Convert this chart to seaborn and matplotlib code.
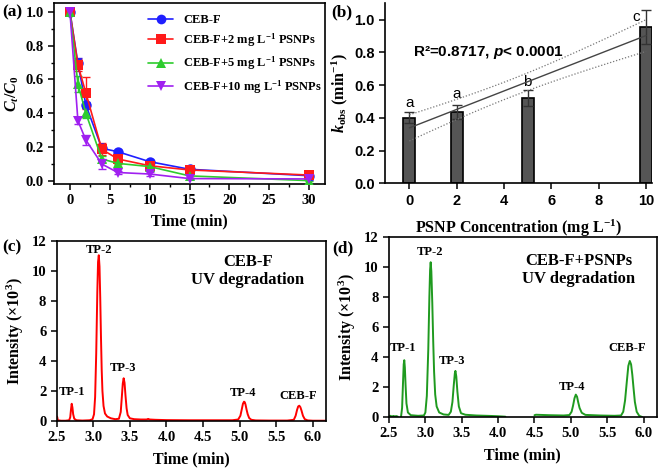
import numpy as np
import pandas as pd
import seaborn as sns
import matplotlib
matplotlib.use("Agg")
import matplotlib.pyplot as plt
from matplotlib.lines import Line2D
from matplotlib.ticker import MultipleLocator, FormatStrFormatter

# ---------------- data ----------------
time_min = [0, 1, 2, 4, 6, 10, 15, 30]
ceb = [1.0, 0.695, 0.449, 0.193, 0.173, 0.114, 0.069, 0.031]
ceb_err = [0.005, 0.03, 0.02, 0.02, 0.01, 0.01, 0.01, 0.01]
ps2 = [1.0, 0.685, 0.52, 0.187, 0.13, 0.09, 0.065, 0.035]
ps2_err = [0.005, 0.035, 0.095, 0.035, 0.03, 0.02, 0.01, 0.01]
ps5 = [1.0, 0.573, 0.40, 0.13, 0.104, 0.085, 0.03, 0.002]
ps5_err = [0.005, 0.045, 0.03, 0.02, 0.03, 0.01, 0.01, 0.005]
ps10 = [1.0, 0.356, 0.242, 0.10, 0.05, 0.041, 0.014, 0.012]
ps10_err = [0.005, 0.02, 0.03, 0.03, 0.01, 0.01, 0.005, 0.005]
series_names = ["CEB-F", "CEB-F+2 mg L$^{-1}$ PSNPs", "CEB-F+5 mg L$^{-1}$ PSNPs",
                "CEB-F+10 mg L$^{-1}$ PSNPs"]

conc = [0, 2, 5, 10]
kobs = [0.402, 0.433, 0.524, 0.955]
kobs_err = [0.035, 0.043, 0.049, 0.105]
letters = ["a", "a", "b", "c"]
letter_x = [0, 2, 5, 9.6]
letter_y = [0.49, 0.545, 0.62, 1.015]
n_rep = 3          # replicates per concentration
ci_scale = 0.184   # t * residual sd used for the 95% band

red_time = [2.500, 2.503, 2.508, 2.515, 2.560, 2.620, 2.670, 2.685, 2.695, 2.705, 2.715, 2.725,
            2.740, 2.770, 2.850, 2.950, 2.990, 3.010, 3.025, 3.040, 3.055, 3.065, 3.075, 3.085,
            3.095, 3.105, 3.115, 3.125, 3.140, 3.160, 3.190, 3.240, 3.300, 3.350, 3.375, 3.390,
            3.403, 3.415, 3.427, 3.440, 3.455, 3.470, 3.500, 3.560, 3.650, 3.730, 3.750, 3.770,
            3.850, 4.000, 4.300, 4.600, 4.900, 4.980, 5.010, 5.030, 5.045, 5.060, 5.070, 5.080,
            5.095, 5.110, 5.130, 5.160, 5.220, 5.400, 5.650, 5.740, 5.765, 5.785, 5.800, 5.815,
            5.830, 5.845, 5.865, 5.890, 5.930, 6.000, 6.180]
red_int = [0.05, 0.30, 0.25, 0.05, 0.02, 0.02, 0.05, 0.25, 0.75, 1.15, 0.90, 0.45,
           0.15, 0.05, 0.03, 0.05, 0.12, 0.45, 1.60, 4.50, 8.60, 10.60, 11.05, 10.30,
           8.20, 5.60, 3.40, 2.00, 1.00, 0.50, 0.30, 0.18, 0.12, 0.15, 0.60, 1.60,
           2.50, 2.85, 2.55, 1.70, 0.85, 0.40, 0.18, 0.12, 0.10, 0.10, 0.14, 0.10,
           0.08, 0.06, 0.05, 0.05, 0.05, 0.10, 0.35, 0.80, 1.15, 1.29, 1.25, 1.10,
           0.75, 0.45, 0.20, 0.08, 0.04, 0.03, 0.03, 0.08, 0.35, 0.75, 0.97, 1.02,
           0.92, 0.70, 0.35, 0.12, 0.04, 0.02, 0.02]
nan = float("nan")
green_time = [2.500, 2.520, 2.540, 2.560, 2.580, 2.600, 2.620, nan, 2.665, 2.680, 2.692, 2.702,
              2.710, 2.718, 2.728, 2.740, 2.760, 2.800, 2.900, 2.980, 3.000, 3.020, 3.040, 3.055,
              3.065, 3.073, 3.082, 3.095, 3.108, 3.120, 3.135, 3.155, 3.190, 3.250, 3.320, 3.350,
              3.372, 3.390, 3.405, 3.413, 3.425, 3.440, 3.460, 3.490, 3.550, 3.700, 3.900, 4.000,
              4.100, nan, 4.500, 4.520, 4.700, 4.900, 4.980, 5.010, 5.030, 5.050, 5.068, 5.085,
              5.100, 5.120, 5.150, 5.200, 5.400, 5.600, 5.690, 5.720, 5.745, 5.770, 5.790, 5.810,
              5.828, 5.845, 5.862, 5.880, 5.905, 5.940, 5.980]
green_int = [0.05, 0.08, 0.03, 0.07, 0.04, 0.06, 0.03, nan, 0.00, 0.60, 2.20, 3.50,
             3.78, 3.30, 2.10, 0.90, 0.30, 0.12, 0.08, 0.10, 0.30, 1.40, 4.50, 8.00,
             9.80, 10.30, 9.70, 7.60, 5.00, 3.00, 1.50, 0.70, 0.30, 0.17, 0.14, 0.35,
             1.00, 2.10, 2.90, 3.07, 2.70, 1.70, 0.70, 0.25, 0.15, 0.10, 0.07, 0.05,
             0.02, nan, 0.12, 0.15, 0.12, 0.10, 0.13, 0.35, 0.75, 1.25, 1.49, 1.35,
             1.00, 0.60, 0.28, 0.14, 0.10, 0.08, 0.10, 0.35, 1.10, 2.40, 3.40, 3.73,
             3.50, 2.80, 1.90, 1.00, 0.35, 0.08, 0.00]

peak_names = ["TP-1", "TP-2", "TP-3", "TP-4", "CEB-F"]
c_label_t = [2.705, 3.078, 3.41, 5.04, 5.80]
c_label_y = [1.93, 11.4, 3.53, 1.87, 1.69]
d_label_t = [2.69, 3.06, 3.37, 5.02, 5.77]
d_label_y = [4.6, 10.95, 3.73, 2.02, 4.6]

# ---------------- style ----------------
sns.set_theme(style="ticks")
SERIF = ["Liberation Serif", "DejaVu Serif"]
SANS = ["Liberation Sans", "DejaVu Sans"]
plt.rcParams.update({
    "font.family": SERIF,
    "font.weight": "bold",
    "axes.labelweight": "bold",
    "mathtext.fontset": "custom",
    "mathtext.rm": "Liberation Serif:bold",
    "mathtext.it": "Liberation Serif:italic:bold",
    "mathtext.bf": "Liberation Serif:bold",
    "mathtext.sf": "Liberation Sans:italic:bold",
    "axes.linewidth": 1.2,
    "axes.edgecolor": "black",
    "axes.labelcolor": "black",
    "text.color": "black",
    "xtick.color": "black",
    "ytick.color": "black",
    "xtick.direction": "out",
    "ytick.direction": "out",
    "xtick.major.size": 4,
    "ytick.major.size": 4,
    "xtick.minor.size": 2.5,
    "ytick.minor.size": 2.5,
    "xtick.major.width": 1.1,
    "ytick.major.width": 1.1,
    "xtick.minor.width": 1.0,
    "ytick.minor.width": 1.0,
    "xtick.labelsize": 10.5,
    "ytick.labelsize": 10.5,
    "axes.labelsize": 11.5,
})

W, H = 661, 470
fig = plt.figure(figsize=(W / 100, H / 100), dpi=100)


def box(l, r, t, b):
    return [l / W, 1 - b / H, (r - l) / W, (b - t) / H]


ax_a = fig.add_axes(box(54, 325, 3.3, 183.5))
ax_b = fig.add_axes(box(385, 651.7, 3.3, 183.3))
ax_c = fig.add_axes(box(56.7, 326, 241, 421))
ax_d = fig.add_axes(box(389, 656.7, 236.7, 417))

# ---------------- (a) ----------------
colors = ["#1f1fff", "#ff1a1a", "#2ecc2e", "#a020f0"]
markers = ["o", "s", "^", "v"]
vals = [ceb, ps2, ps5, ps10]
errs = [ceb_err, ps2_err, ps5_err, ps10_err]
rows = []
for name, v in zip(series_names, vals):
    for t, y in zip(time_min, v):
        rows.append({"time": t, "value": y, "series": name})
df_a = pd.DataFrame(rows)
for i, (name, v, e) in enumerate(zip(series_names, vals, errs)):
    ax_a.errorbar(time_min, v, yerr=e, fmt="none", ecolor=colors[i], elinewidth=1.0,
                  capsize=3, capthick=1.0, zorder=2)
sns.lineplot(data=df_a, x="time", y="value", hue="series", style="series",
             palette=dict(zip(series_names, colors)),
             markers=dict(zip(series_names, markers)), dashes=False,
             linewidth=1.2, markersize=7.5, markeredgewidth=0, legend=False,
             ax=ax_a, zorder=3)
ax_a.set_xlim(-2, 32)
ax_a.set_ylim(-0.015, 1.05)
ax_a.xaxis.set_major_locator(MultipleLocator(5))
ax_a.xaxis.set_minor_locator(MultipleLocator(2.5))
ax_a.yaxis.set_major_locator(MultipleLocator(0.2))
ax_a.yaxis.set_minor_locator(MultipleLocator(0.1))
ax_a.yaxis.set_major_formatter(FormatStrFormatter("%.1f"))
ax_a.set_xlabel("Time (min)", labelpad=5)
ax_a.set_ylabel("$C_t/C_0$", labelpad=3)
handles = [Line2D([0], [0], color=c, marker=m, markersize=7, lw=1.2, markeredgewidth=0)
           for c, m in zip(colors, markers)]
ax_a.legend(handles, series_names, loc="upper left", bbox_to_anchor=(148 / W, 1 - 14 / H),
            bbox_transform=fig.transFigure, frameon=False, fontsize=9,
            handlelength=2.0, handletextpad=0.8, labelspacing=0.45,
            borderpad=0, borderaxespad=0)

# ---------------- (b) ----------------
sns.barplot(x=conc, y=kobs, native_scale=True, width=0.25, color="#555555",
            saturation=1, edgecolor="black", linewidth=1.2, errorbar=None, ax=ax_b)
ax_b.errorbar(conc, kobs, yerr=kobs_err, fmt="none", ecolor="#333333", elinewidth=1.0,
              capsize=3.5, capthick=1.0, zorder=3)
slope, intercept = np.polyfit(conc, kobs, 1)
xs = np.linspace(min(conc), max(conc), 60)
fit = slope * xs + intercept
xm = np.mean(conc)
sxx = n_rep * np.sum((np.array(conc) - xm) ** 2)
half = ci_scale * np.sqrt(1 / (n_rep * len(conc)) + (xs - xm) ** 2 / sxx)
sns.lineplot(x=xs, y=fit, color="#444444", linewidth=1.0, ax=ax_b, zorder=4)
ax_b.plot(xs, fit + half, color="#777777", lw=0.9, ls=(0, (1, 1.5)), zorder=4)
ax_b.plot(xs, fit - half, color="#777777", lw=0.9, ls=(0, (1, 1.5)), zorder=4)
for lx, ly, s in zip(letter_x, letter_y, letters):
    ax_b.text(lx, ly, s, ha="center", va="center", family=SANS, fontweight="normal",
              fontsize=11)
ax_b.text(0.15, 0.80, "R²=0.8717, $\\mathsf{p}$< 0.0001", family=SANS, fontweight="bold",
          fontsize=11, va="center", ha="left")
ax_b.set_xlim(-1.03, 10.24)
ax_b.set_ylim(0, 1.1)
ax_b.set_xticks([0, 2, 4, 6, 8, 10])
ax_b.set_xticklabels(["0", "2", "4", "6", "8", "10"])
ax_b.yaxis.set_major_locator(MultipleLocator(0.2))
ax_b.yaxis.set_major_formatter(FormatStrFormatter("%.1f"))
ax_b.tick_params(labelsize=10.5)
for lab in ax_b.get_xticklabels() + ax_b.get_yticklabels():
    lab.set_fontfamily(SANS)
    lab.set_fontweight("bold")
sns.despine(ax=ax_b)
ax_b.set_xlabel("PSNP Concentration (mg L$^{-1}$)", labelpad=7)
ax_b.set_ylabel("$k_{\\mathrm{obs}}$ (min$^{-1}$)", labelpad=3)


# ---------------- (c) & (d) ----------------
def segments(t, y):
    t = np.asarray(t, float)
    y = np.asarray(y, float)
    breaks = np.where(np.isnan(t))[0]
    out, start = [], 0
    for b in list(breaks) + [len(t)]:
        if b > start:
            out.append((t[start:b], y[start:b]))
        start = b + 1
    return out


def chrom(ax, t, y, color, lab_t, lab_y, title, title_xy):
    for st, sy in segments(t, y):
        sns.lineplot(x=st, y=sy, color=color, linewidth=1.4, sort=False,
                     estimator=None, ax=ax)
    for name, lx, ly in zip(peak_names, lab_t, lab_y):
        ax.text(lx, ly, name, ha="center", va="center", fontsize=9, fontweight="bold")
    ax.text(title_xy[0], title_xy[1], title, ha="center", va="center", fontsize=12,
            fontweight="bold", linespacing=1.15)
    ax.set_xlim(2.5, 6.18)
    ax.set_ylim(0, 12)
    ax.xaxis.set_major_locator(MultipleLocator(0.5))
    ax.xaxis.set_major_formatter(FormatStrFormatter("%.1f"))
    ax.yaxis.set_major_locator(MultipleLocator(2))
    ax.set_xlabel("Time (min)", labelpad=5)
    ax.set_ylabel("Intensity (×10$^3$)", labelpad=4)


chrom(ax_c, red_time, red_int, "#ff0000", c_label_t, c_label_y,
      "CEB-F\nUV degradation", (5.11, 10.0))
chrom(ax_d, green_time, green_int, "#1f9a1f", d_label_t, d_label_y,
      "CEB-F+PSNPs\nUV degradation", (5.11, 9.8))

# panel letters
fig.text(2 / W, 1 - 12 / H, "(a)", fontsize=12.5, fontweight="bold", va="center")
fig.text(331 / W, 1 - 12 / H, "(b)", fontsize=12.5, fontweight="bold", va="center")
fig.text(2 / W, 1 - 247 / H, "(c)", fontsize=12.5, fontweight="bold", va="center")
fig.text(332 / W, 1 - 248 / H, "(d)", fontsize=12.5, fontweight="bold", va="center")

fig.savefig("out.png", dpi=100)
